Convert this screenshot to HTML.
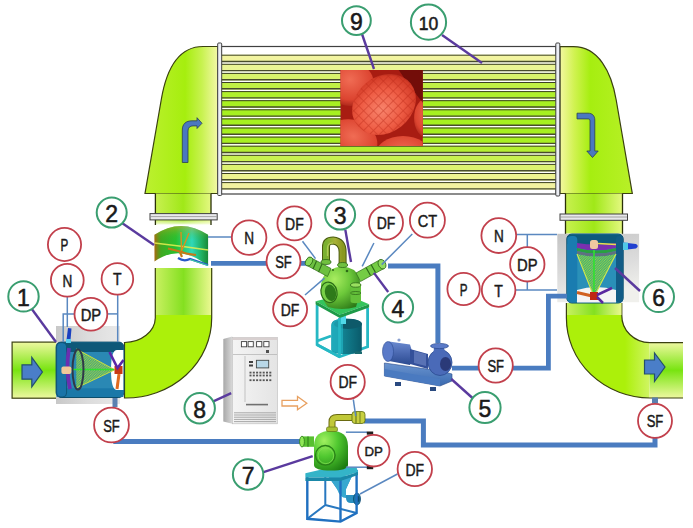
<!DOCTYPE html>
<html><head><meta charset="utf-8">
<style>
html,body{margin:0;padding:0;background:#fff;width:693px;height:528px;overflow:hidden}
svg{display:block}
text{font-family:"Liberation Sans",sans-serif;fill:#1a1a1a;text-anchor:middle}
</style></head><body>
<svg width="693" height="528" viewBox="0 0 693 528">

<defs>
  <linearGradient id="gL" x1="0" x2="1" y1="0" y2="0">
    <stop offset="0" stop-color="#bcf030"/>
    <stop offset="0.55" stop-color="#a6ee0e"/>
    <stop offset="0.78" stop-color="#c8f250"/>
    <stop offset="1" stop-color="#f4f8a8"/>
  </linearGradient>
  <linearGradient id="gR" x1="0" x2="1" y1="0" y2="0">
    <stop offset="0" stop-color="#f4f8a0"/>
    <stop offset="0.2" stop-color="#d0f250"/>
    <stop offset="0.42" stop-color="#a6ee10"/>
    <stop offset="1" stop-color="#b8f028"/>
  </linearGradient>
  <linearGradient id="gPipe" x1="0" x2="1" y1="0" y2="0">
    <stop offset="0" stop-color="#c8f060"/>
    <stop offset="0.5" stop-color="#84e020"/>
    <stop offset="1" stop-color="#eaf890"/>
  </linearGradient>
  <linearGradient id="gHoriz" x1="0" x2="0" y1="0" y2="1">
    <stop offset="0" stop-color="#eef8a0"/>
    <stop offset="0.5" stop-color="#78e410"/>
    <stop offset="1" stop-color="#eef8a0"/>
  </linearGradient>
  <linearGradient id="gNeck" x1="0" x2="1" y1="0" y2="0">
    <stop offset="0" stop-color="#c8f050"/>
    <stop offset="0.5" stop-color="#a0e818"/>
    <stop offset="1" stop-color="#e4f880"/>
  </linearGradient>
</defs>

<rect x="221" y="46.5" width="335" height="147.5" fill="#fff" stroke="#404040" stroke-width="1.2"/>
<rect x="221" y="54.70" width="335" height="7.5" fill="#f2f4a0"/>
<path d="M221,55.20 H556" stroke="#3c4020" stroke-width="1.0"/>
<path d="M221,61.50 H556" stroke="#484c2c" stroke-width="1.4"/>
<rect x="221" y="63.80" width="335" height="7.5" fill="#eaf494"/>
<path d="M221,64.30 H556" stroke="#3c4020" stroke-width="1.0"/>
<path d="M221,70.60 H556" stroke="#484c2c" stroke-width="1.4"/>
<rect x="221" y="72.90" width="335" height="7.5" fill="#d8f26c"/>
<path d="M221,73.40 H556" stroke="#3c4020" stroke-width="1.0"/>
<path d="M221,79.70 H556" stroke="#484c2c" stroke-width="1.4"/>
<rect x="221" y="82.00" width="335" height="7.5" fill="#c0f044"/>
<path d="M221,82.50 H556" stroke="#3c4020" stroke-width="1.0"/>
<path d="M221,88.80 H556" stroke="#484c2c" stroke-width="1.4"/>
<rect x="221" y="91.10" width="335" height="7.5" fill="#b0f02c"/>
<path d="M221,91.60 H556" stroke="#3c4020" stroke-width="1.0"/>
<path d="M221,97.90 H556" stroke="#484c2c" stroke-width="1.4"/>
<rect x="221" y="100.20" width="335" height="7.5" fill="#a8f022"/>
<path d="M221,100.70 H556" stroke="#3c4020" stroke-width="1.0"/>
<path d="M221,107.00 H556" stroke="#484c2c" stroke-width="1.4"/>
<rect x="221" y="109.30" width="335" height="7.5" fill="#a6f020"/>
<path d="M221,109.80 H556" stroke="#3c4020" stroke-width="1.0"/>
<path d="M221,116.10 H556" stroke="#484c2c" stroke-width="1.4"/>
<rect x="221" y="118.40" width="335" height="7.5" fill="#a6f020"/>
<path d="M221,118.90 H556" stroke="#3c4020" stroke-width="1.0"/>
<path d="M221,125.20 H556" stroke="#484c2c" stroke-width="1.4"/>
<rect x="221" y="127.50" width="335" height="7.5" fill="#a6f020"/>
<path d="M221,128.00 H556" stroke="#3c4020" stroke-width="1.0"/>
<path d="M221,134.30 H556" stroke="#484c2c" stroke-width="1.4"/>
<rect x="221" y="136.60" width="335" height="7.5" fill="#a8f022"/>
<path d="M221,137.10 H556" stroke="#3c4020" stroke-width="1.0"/>
<path d="M221,143.40 H556" stroke="#484c2c" stroke-width="1.4"/>
<rect x="221" y="145.70" width="335" height="7.5" fill="#b4f032"/>
<path d="M221,146.20 H556" stroke="#3c4020" stroke-width="1.0"/>
<path d="M221,152.50 H556" stroke="#484c2c" stroke-width="1.4"/>
<rect x="221" y="154.80" width="335" height="7.5" fill="#c8f250"/>
<path d="M221,155.30 H556" stroke="#3c4020" stroke-width="1.0"/>
<path d="M221,161.60 H556" stroke="#484c2c" stroke-width="1.4"/>
<rect x="221" y="163.90" width="335" height="7.5" fill="#dcf270"/>
<path d="M221,164.40 H556" stroke="#3c4020" stroke-width="1.0"/>
<path d="M221,170.70 H556" stroke="#484c2c" stroke-width="1.4"/>
<rect x="221" y="173.00" width="335" height="7.5" fill="#ecf290"/>
<path d="M221,173.50 H556" stroke="#3c4020" stroke-width="1.0"/>
<path d="M221,179.80 H556" stroke="#484c2c" stroke-width="1.4"/>
<rect x="221" y="182.10" width="335" height="7.5" fill="#f2f2a0"/>
<path d="M221,182.60 H556" stroke="#3c4020" stroke-width="1.0"/>
<path d="M221,188.90 H556" stroke="#484c2c" stroke-width="1.4"/>
<path d="M218,46.5 L203,46.5 C178,46.5 166.2,70 161.2,100 L145,193.5 L218,193.5 Z" fill="url(#gL)" stroke="#3a4010" stroke-width="1.2"/>
<path d="M560,46.7 L573.5,46.7 C598.5,46.7 611.4,72 616.2,100 L632.3,193.5 L560,193.5 Z" fill="url(#gR)" stroke="#3a4010" stroke-width="1.2"/>
<rect x="217.7" y="43" width="4" height="152.5" rx="1" fill="#eceef4" stroke="#404040" stroke-width="1"/>
<rect x="555.8" y="43" width="4" height="153" rx="1" fill="#eceef4" stroke="#404040" stroke-width="1"/>
<defs><linearGradient id="gNeckFade" x1="0" x2="0" y1="0" y2="1"><stop offset="0" stop-color="#fff" stop-opacity="0"/><stop offset="1" stop-color="#fff" stop-opacity="0.85"/></linearGradient></defs>
<rect x="155.4" y="193.5" width="55.6" height="31" fill="url(#gNeck)"/>
<rect x="155.4" y="219" width="55.6" height="6" fill="url(#gNeckFade)"/>
<path d="M155.4,193.5 V225 M211,193.5 V225" stroke="#2a3008" stroke-width="1.3"/>
<rect x="150" y="213.6" width="67.2" height="6.3" fill="#e8e8ec" stroke="#404040" stroke-width="1"/>
<line x1="150.5" y1="216.6" x2="216.7" y2="216.6" stroke="#909090" stroke-width="0.8"/>
<rect x="565.5" y="193.5" width="57" height="40" fill="url(#gNeck)"/>
<path d="M565.5,193.5 V234 M622.5,193.5 V234" stroke="#2a3008" stroke-width="1.3"/>
<rect x="560" y="214" width="67.5" height="6.3" fill="#e8e8ec" stroke="#404040" stroke-width="1"/>
<line x1="560.5" y1="217" x2="627" y2="217" stroke="#909090" stroke-width="0.8"/>
<rect x="155.3" y="268" width="56.4" height="47" fill="url(#gPipe)" stroke="none"/>
<path d="M155.3,268 L155.3,318 A31,25 0 0 1 124.5,342.5 L124.5,398 A86,80 0 0 0 211.7,318 L211.7,268" fill="#acf00a" stroke="#3a4010" stroke-width="1.2"/>
<rect x="156" y="268" width="55" height="47" fill="url(#gPipe)"/>
<rect x="12.1" y="342.1" width="46" height="56.1" fill="url(#gHoriz)" stroke="#3a4010" stroke-width="1.2"/>
<path d="M566.4,303 L566.4,318 A84,80 0 0 0 650,398 L683,398 L683,342.6 L650,342.6 A28,27 0 0 1 621.8,315 L621.8,303" fill="#acf00a" stroke="none"/>
<rect x="649" y="342.6" width="34" height="55.4" fill="url(#gHoriz)"/>
<defs><linearGradient id="elbR" x1="0" x2="1"><stop offset="0" stop-color="#e8f8a0" stop-opacity="0"/><stop offset="1" stop-color="#e8f8a0" stop-opacity="0.6"/></linearGradient>
<clipPath id="elbRc"><path d="M566.4,303 L566.4,318 A84,80 0 0 0 650,398 L650,342.6 A28,27 0 0 1 621.8,315 L621.8,303 Z"/></clipPath></defs>
<rect x="625" y="330" width="25" height="70" fill="url(#elbR)" clip-path="url(#elbRc)"/>
<path d="M566.4,303 L566.4,318 A84,80 0 0 0 650,398 L683,398 M683,342.6 L650,342.6 A28,27 0 0 1 621.8,315 L621.8,303" fill="none" stroke="#3a4010" stroke-width="1.2"/>
<rect x="567" y="303" width="54.5" height="12" fill="url(#gPipe)"/>
<path d="M182.3,162.5 L182.3,130 C182.3,124 186,120.8 192,120.8 L197,120.8 L197,117.7 L202,123.3 L197,128.5 L197,125.9 L193,125.9 C190,125.9 188,127.5 188,131 L188,162.5 Z" fill="#4a78c0" stroke="#2c4050" stroke-width="0.8"/>
<path d="M577,113.2 L588,113.2 C592.5,113.2 594.8,116 594.8,120 L594.8,151 L598.2,151 L592.5,157.5 L586.8,151 L590,151 L590,121 C590,119.5 589.5,118.9 588,118.9 L577,118.9 Z" fill="#4a78c0" stroke="#2c4050" stroke-width="0.8"/>
<defs>
<clipPath id="cp9"><rect x="340.5" y="70" width="82.3" height="76"/></clipPath>
<radialGradient id="ball" cx="0.42" cy="0.55" r="0.62">
 <stop offset="0" stop-color="#f8846c"/><stop offset="0.55" stop-color="#ee5c44"/><stop offset="0.9" stop-color="#d43c28"/><stop offset="1" stop-color="#a82418"/>
</radialGradient>
<radialGradient id="ball2" cx="0.5" cy="0.4" r="0.65">
 <stop offset="0" stop-color="#f06c54"/><stop offset="0.7" stop-color="#dc4430"/><stop offset="1" stop-color="#a02014"/>
</radialGradient>
<pattern id="waf" width="7" height="7" patternUnits="userSpaceOnUse" patternTransform="rotate(83)">
 <path d="M0,0 H7 M0,0 V7" stroke="#b82414" stroke-width="1.6" opacity="0.5"/>
</pattern>
</defs>
<g clip-path="url(#cp9)">
<rect x="340" y="69" width="84" height="78" fill="#a81c12"/>
<ellipse cx="350" cy="84" rx="24" ry="22" fill="url(#ball2)"/>
<ellipse cx="352" cy="140" rx="26" ry="20" transform="rotate(20 352 140)" fill="url(#ball2)"/>
<ellipse cx="403" cy="156" rx="28" ry="20" fill="url(#ball2)"/>
<ellipse cx="428" cy="118" rx="14" ry="20" fill="url(#ball2)"/>
<path d="M398,69 L424,69 L424,104 Q412,90 398,69 Z" fill="#6a0a08" opacity="0.85"/>
<ellipse cx="384" cy="104.5" rx="34" ry="28" transform="rotate(-38 384 104.5)" fill="url(#ball)"/>
<ellipse cx="384" cy="104.5" rx="34" ry="28" transform="rotate(-38 384 104.5)" fill="url(#waf)"/>
</g>
<defs><linearGradient id="f2g" x1="0" x2="1" y1="0" y2="0">
<stop offset="0" stop-color="#a86a10"/><stop offset="0.12" stop-color="#40a820"/><stop offset="0.4" stop-color="#28c030"/>
<stop offset="0.7" stop-color="#30d8b8"/><stop offset="0.88" stop-color="#20b060"/><stop offset="1" stop-color="#188838"/></linearGradient>
<linearGradient id="f2v" x1="0" x2="0" y1="0" y2="1"><stop offset="0" stop-color="#e0a020" stop-opacity="0.55"/><stop offset="0.35" stop-color="#40c020" stop-opacity="0"/></linearGradient></defs>
<path d="M154.4,234.8 Q181,217 208.1,234.8 L208.1,266.3 Q181,243 154.5,261.4 Z" fill="url(#f2g)"/>
<path d="M154.4,234.8 Q181,217 208.1,234.8 L208.1,266.3 Q181,243 154.5,261.4 Z" fill="url(#f2v)"/>
<path d="M154.4,243 Q181,246 208,250" fill="none" stroke="#e8f050" stroke-width="1.3" opacity="0.85"/>
<path d="M181,232 L181.5,251 M189,233 L182,250" stroke="#d89020" stroke-width="1.4"/>
<path d="M168,248.5 L182,252 Q186,254 196,255" fill="none" stroke="#c87818" stroke-width="2"/>
<path d="M180,252 L182,257" stroke="#c87818" stroke-width="2.2"/>
<path d="M178,258 Q184,262 190,259 L208,265" fill="none" stroke="#2858c8" stroke-width="2.2"/>
<path d="M190,259.5 L208,265.5" stroke="#40d0a0" stroke-width="1.2"/>
<defs>
<linearGradient id="gray1" x1="0" x2="1" y1="0" y2="0"><stop offset="0" stop-color="#c8c8c8"/><stop offset="0.5" stop-color="#dcdcdc"/><stop offset="1" stop-color="#e8e8e8"/></linearGradient>
<linearGradient id="gray6" x1="0" x2="0.3" y1="0" y2="1"><stop offset="0" stop-color="#c4c4c4"/><stop offset="0.6" stop-color="#dcdcdc"/><stop offset="1" stop-color="#f0f0ec"/></linearGradient>
<linearGradient id="cone1" x1="0" x2="1" y1="0" y2="0"><stop offset="0" stop-color="#40a040"/><stop offset="1" stop-color="#60e030"/></linearGradient>
<pattern id="mesh" width="2.5" height="2.5" patternUnits="userSpaceOnUse"><path d="M0,2.5 L2.5,0" stroke="#b8e040" stroke-width="0.7"/></pattern>
</defs>
<rect x="56" y="326" width="64" height="78" fill="url(#gray1)"/>
<rect x="56.1" y="342.1" width="67.8" height="55.4" rx="5" fill="#2a88b4" stroke="#0c4e6c" stroke-width="1"/>
<path d="M60,342.6 H119 Q123.4,342.6 123.4,347 V352 H56.6 V347 Q56.6,342.6 60,342.6 Z" fill="#0e5878"/>
<rect x="56.6" y="388.3" width="66.8" height="8.7" fill="#1a78a8"/>
<rect x="56.6" y="342.6" width="10" height="54.4" rx="4" fill="#1a74a8" stroke="#0c4e6c" stroke-width="0.8"/>
<path d="M123.4,350 H117 Q111,350 111,370 Q111,390 117,390 H123.4 Z" fill="#fff"/>
<path d="M76.3,349 L114.7,369.8 L76.3,388 Z" fill="#50a878"/>
<path d="M76.3,349 L114.7,369.8 L76.3,388 Z" fill="url(#mesh)"/>
<path d="M76.3,349 L114.7,369.8 L76.3,388" fill="none" stroke="#c8e040" stroke-width="1"/>
<line x1="72" y1="369.5" x2="114" y2="369.5" stroke="#30e030" stroke-width="1.5"/>
<ellipse cx="78" cy="369.5" rx="5.5" ry="20" fill="none" stroke="#303848" stroke-width="2"/>
<path d="M69,348 Q65.5,369 70,389" fill="none" stroke="#6a30b0" stroke-width="3.8"/>
<rect x="61.4" y="366.5" width="10" height="7.5" rx="2" fill="#f0c898"/>
<rect x="114.5" y="366" width="8" height="8" fill="#c83814"/>
<path d="M119,374 L117,389" stroke="#e06a20" stroke-width="3"/>
<path d="M109.5,352 L117.5,368 L123.5,360" fill="none" stroke="#5a28a8" stroke-width="2.6"/>
<path d="M68,328 L71.5,328.5 L70.5,340 L66.5,340 Z" fill="#1a40c0"/>
<rect x="66" y="339" width="5" height="4" fill="#5ad0f0"/>
<rect x="112.5" y="398" width="5" height="9" fill="#5a80b0"/>
<rect x="557.3" y="233.8" width="81.8" height="68.4" fill="url(#gray6)"/>
<rect x="566.8" y="234" width="56.4" height="69" rx="5" fill="#2a90b8" stroke="#0c4e6c" stroke-width="1"/>
<path d="M571,234.5 H619 Q622.7,234.5 622.7,238.5 V244 Q596,254 567.3,244 V238.5 Q567.3,234.5 571,234.5 Z" fill="#0e5a7c"/>
<rect x="567.3" y="236" width="10" height="66.5" rx="4" fill="#1a7cb0"/>
<rect x="616" y="236" width="7" height="66.5" rx="3" fill="#125c86"/>
<path d="M577,290 Q596,284 616,290 V302.5 H577 Z" fill="#f4f4f4"/>
<path d="M577,243 Q596,246 616,243 V248 Q596,253 577,248 Z" fill="#7a30b0"/>
<path d="M577,248 Q596,253 616,248 V251 Q596,256 577,251 Z" fill="#2aa040"/>
<path d="M577,251 Q596,256 616,251 L616,254 Q596,259 577,254 Z" fill="#607080"/>
<path d="M577,254 L594,297 L616,254 Q596,259 577,254 Z" fill="#48b070"/>
<path d="M577,254 L594,297 L616,254 Q596,259 577,254 Z" fill="url(#mesh)"/>
<path d="M577,254 L594,297 L616,254" fill="none" stroke="#d0e850" stroke-width="1.1"/>
<line x1="594" y1="250" x2="594" y2="296" stroke="#30e030" stroke-width="1.6"/>
<rect x="590" y="240" width="8" height="9" rx="2.5" fill="#f0c8a0"/>
<line x1="598" y1="243.5" x2="616" y2="244.5" stroke="#e8e050" stroke-width="1.5"/>
<path d="M623,242.5 L636,244 Q639.5,246.2 636,248.5 L623,250 Z" fill="#2040d0"/>
<rect x="623" y="242.5" width="5" height="7.5" fill="#50c8e8"/>
<path d="M577,292.5 L592,296" stroke="#d06020" stroke-width="3"/>
<rect x="590" y="292" width="8" height="8" fill="#c02814"/>
<path d="M597,295 L612,288 M597,297 L603,303" stroke="#5a28a0" stroke-width="2.5"/>
<path d="M211,263.4 L310,263.4" fill="none" stroke="#4a7cc0" stroke-width="4.6" stroke-linejoin="miter"/>
<path d="M388,266 L437.9,266 L437.9,343" fill="none" stroke="#4a7cc0" stroke-width="5" stroke-linejoin="miter"/>
<path d="M452,368.2 L548.4,368.2 L548.4,296.2 L567,296.2" fill="none" stroke="#4a7cc0" stroke-width="4.8" stroke-linejoin="miter"/>
<path d="M113.3,441.5 L300,441.5" fill="none" stroke="#4a7cc0" stroke-width="5" stroke-linejoin="miter"/>
<path d="M364,421.1 L423.4,421.1 L423.4,445 L655,445 L655,436" fill="none" stroke="#4a7cc0" stroke-width="5" stroke-linejoin="miter"/>
<rect x="652" y="397.5" width="6" height="6" fill="#5a80b0"/>
<defs>
<radialGradient id="sepG" cx="0.35" cy="0.3" r="0.8"><stop offset="0" stop-color="#a8ec60"/><stop offset="0.5" stop-color="#6cc83a"/><stop offset="1" stop-color="#2e7a18"/></radialGradient>
<linearGradient id="uG" x1="0" x2="1"><stop offset="0" stop-color="#7ab030"/><stop offset="0.55" stop-color="#a8b038"/><stop offset="1" stop-color="#8a9820"/></linearGradient>
<linearGradient id="tankG" x1="0" x2="1"><stop offset="0" stop-color="#1a9aaa"/><stop offset="0.4" stop-color="#128090"/><stop offset="1" stop-color="#0a5a6a"/></linearGradient>
<radialGradient id="sep7G" cx="0.3" cy="0.25" r="0.9"><stop offset="0" stop-color="#a0f060"/><stop offset="0.45" stop-color="#50c830"/><stop offset="1" stop-color="#1a7a10"/></radialGradient>
</defs>
<path d="M317.1,305 V344.7 L339.5,356.8 L367.6,346.8 V308 M317.1,341 L331,336" fill="none" stroke="#26b8c4" stroke-width="2.8"/>
<path d="M331.3,325 Q331.3,318.4 346,318.4 Q361.8,318.4 361.8,325 V350 Q361.8,354 346,354 Q331.3,354 331.3,350 Z" fill="url(#tankG)"/>
<ellipse cx="348" cy="324" rx="14" ry="5" fill="#0e5a6a"/>
<path d="M331.3,325 Q334,318.4 343,318.4 L343,353.5 Q334,353 331.3,350 Z" fill="#22b0c0" opacity="0.75"/>
<rect x="340" y="314" width="6" height="10" fill="#50d8e8"/>
<line x1="317.1" y1="344.7" x2="339.5" y2="356.8" stroke="#26b8c4" stroke-width="2.8"/>
<path d="M339.5,318 V356.8" stroke="#26b8c4" stroke-width="2.8"/>
<rect x="355" y="351.5" width="7" height="2.5" fill="#1a6a70"/>
<path d="M315.6,301.2 L345,294 L369.1,304.2 L339.8,314.8 Z" fill="#34c45c"/>
<path d="M315.6,301.2 L339.8,314.8 L369.1,304.2 L369.1,307.5 L339.8,318 L315.6,304.5 Z" fill="#1e9a48"/>
<path d="M328,307 Q322,300 321,290 Q320,276 330,270 Q342,263 354,270 Q361,276 360,286 Q359,298 356,307 Q342,311 328,307 Z" fill="url(#sepG)"/>
<ellipse cx="329" cy="292.3" rx="8" ry="10.3" transform="rotate(-12 329 292.3)" fill="#78d048" stroke="#2a6a18" stroke-width="1.2"/>
<ellipse cx="330.5" cy="292.8" rx="5.5" ry="8.3" transform="rotate(-12 330.5 292.8)" fill="#2e7a1a"/>
<path d="M350.5,285 Q350.5,283 355.7,283 Q361,283 361,285 V301 Q361,303.2 355.7,303.2 Q350.5,303.2 350.5,301 Z" fill="#64c03a"/>
<ellipse cx="355.7" cy="285" rx="5.2" ry="2.2" fill="#9ae060" stroke="#2e6a18" stroke-width="0.8"/>
<ellipse cx="355.7" cy="293" rx="5.2" ry="1.5" fill="none" stroke="#2e6a18" stroke-width="0.8"/>
<path d="M310.5,257.5 L331,268.5 L327.5,276.5 L307,265.5 Z" fill="#6cc040" stroke="#2e6a18" stroke-width="0.7"/>
<ellipse cx="309" cy="261.5" rx="3.2" ry="4.8" transform="rotate(28 309 261.5)" fill="#88d858" stroke="#2e6a18" stroke-width="0.8"/>
<path d="M316.5,261 L313,269 M322,264 L318.5,272" stroke="#2e6a18" stroke-width="1.1"/>
<path d="M356,273 L379.5,260 L384,268.5 L360.5,281.5 Z" fill="#74cc44" stroke="#2e6a18" stroke-width="0.7"/>
<ellipse cx="382" cy="264.2" rx="3.6" ry="5" transform="rotate(-28 382 264.2)" fill="#90dc60" stroke="#2e6a18" stroke-width="0.8"/>
<path d="M366,267.5 L370.5,275.5 M371,264.5 L375.5,272.5" stroke="#2e6a18" stroke-width="1.2"/>
<path d="M326,264 V247 Q326,240.5 333,240.5 Q342.6,241.5 342.6,252 V266" fill="none" stroke="#4a5a10" stroke-width="8"/>
<path d="M326,264 V247 Q326,240.5 333,240.5 Q342.6,241.5 342.6,252 V266" fill="none" stroke="url(#uG)" stroke-width="6"/>
<path d="M327.5,256 V248 Q327.5,243 333,243" fill="none" stroke="#d0e070" stroke-width="1.2" opacity="0.6"/>
<ellipse cx="326" cy="262" rx="5" ry="2.5" fill="#70c040" stroke="#2e6a18" stroke-width="0.8"/>
<ellipse cx="342.6" cy="265" rx="5" ry="2.5" fill="#70c040" stroke="#2e6a18" stroke-width="0.8"/>
<circle cx="347" cy="271" r="1.3" fill="#2e6a18"/><circle cx="333" cy="270" r="1.1" fill="#2e6a18"/>
<defs><linearGradient id="motG" x1="0" y1="0" x2="0" y2="1"><stop offset="0" stop-color="#6a8ad0"/><stop offset="0.5" stop-color="#4a68b0"/><stop offset="1" stop-color="#2a4a90"/></linearGradient>
<linearGradient id="baseG" x1="0" y1="0" x2="0" y2="1"><stop offset="0" stop-color="#6a94d0"/><stop offset="1" stop-color="#3a6ab0"/></linearGradient></defs>
<path d="M384.4,363 L441,371 L452,374 L452,381 L440,386 L384.4,376 Z" fill="url(#baseG)" stroke="#2a4a88" stroke-width="0.6"/>
<path d="M384.4,369 L440,379 L440,386 L384.4,376 Z" fill="#4a7ac0"/>
<rect x="395" y="382" width="6" height="4" fill="#2a4a80"/><rect x="430" y="387" width="6" height="4" fill="#2a4a80"/>
<path d="M389,341.5 L410,344.5 Q414,354 410,365 L389,361 Z" fill="url(#motG)"/>
<ellipse cx="388" cy="351.5" rx="5.5" ry="10" fill="#5a7ac8" stroke="#2a4a90" stroke-width="0.6"/>
<circle cx="399" cy="340" r="1.6" fill="#8aa0d0"/>
<path d="M410,349 L428,354 L428,369 L410,364 Z" fill="#34509a"/>
<path d="M414,351 L426,354 L426,366 L414,363 Z" fill="#6a80c0" opacity="0.7"/>
<ellipse cx="440" cy="362.5" rx="12" ry="13" fill="#4a6ab8" stroke="#2a4a90" stroke-width="0.8"/>
<ellipse cx="445.5" cy="364" rx="5.5" ry="7" fill="#2a3a78"/>
<path d="M434,348 L444,348 L446,356 L433,356 Z" fill="#4a6ab8"/>
<ellipse cx="439.5" cy="346" rx="9" ry="2.6" fill="#5a7ac8" stroke="#2a4a90" stroke-width="0.7"/>
<defs><linearGradient id="cabS" x1="0" x2="1"><stop offset="0" stop-color="#a8a8a8"/><stop offset="1" stop-color="#d8d8d8"/></linearGradient>
<linearGradient id="cabF" x1="0" x2="1"><stop offset="0" stop-color="#f4f4f4"/><stop offset="1" stop-color="#e4e4e4"/></linearGradient></defs>
<path d="M223.3,339 L232.3,336.6 L232.3,423.8 L223.3,421.5 Z" fill="url(#cabS)"/>
<rect x="232.3" y="337.5" width="45" height="86.3" fill="url(#cabF)" stroke="#b8b8b8" stroke-width="0.6"/>
<rect x="232.3" y="337.5" width="45" height="2.5" fill="#d8d0d0"/>
<rect x="241.4" y="341.6" width="5.2" height="5.2" fill="#fff" stroke="#404040" stroke-width="0.9"/>
<rect x="248.1" y="341.6" width="5.2" height="5.2" fill="#fff" stroke="#404040" stroke-width="0.9"/>
<rect x="256.59999999999997" y="341.6" width="5.2" height="5.2" fill="#fff" stroke="#404040" stroke-width="0.9"/>
<rect x="263.79999999999995" y="341.6" width="5.2" height="5.2" fill="#fff" stroke="#404040" stroke-width="0.9"/>
<rect x="233" y="354" width="44" height="0.7" fill="#b0b0b0"/>
<line x1="245" y1="356" x2="245" y2="402" stroke="#b0b0b0" stroke-width="0.7"/>
<rect x="266" y="350" width="3" height="3" fill="#505050"/>
<rect x="256.4" y="360.3" width="12.3" height="7.6" fill="#b8d8e8" stroke="#404848" stroke-width="0.9"/>
<rect x="249" y="361" width="4" height="2" fill="#404040"/><rect x="249" y="364.5" width="4" height="2" fill="#404040"/>
<rect x="249.5" y="371.70000000000005" width="2" height="1.8" fill="#555"/>
<rect x="252.8" y="371.70000000000005" width="2" height="1.8" fill="#555"/>
<rect x="256.1" y="371.70000000000005" width="2" height="1.8" fill="#555"/>
<rect x="259.4" y="371.70000000000005" width="2" height="1.8" fill="#555"/>
<rect x="262.7" y="371.70000000000005" width="2" height="1.8" fill="#555"/>
<rect x="266.0" y="371.70000000000005" width="2" height="1.8" fill="#555"/>
<rect x="269.3" y="371.70000000000005" width="2" height="1.8" fill="#555"/>
<rect x="249.5" y="374.6" width="2" height="1.8" fill="#555"/>
<rect x="252.8" y="374.6" width="2" height="1.8" fill="#555"/>
<rect x="256.1" y="374.6" width="2" height="1.8" fill="#555"/>
<rect x="259.4" y="374.6" width="2" height="1.8" fill="#555"/>
<rect x="262.7" y="374.6" width="2" height="1.8" fill="#555"/>
<rect x="266.0" y="374.6" width="2" height="1.8" fill="#555"/>
<rect x="269.3" y="374.6" width="2" height="1.8" fill="#555"/>
<rect x="249.5" y="379.3" width="2" height="1.8" fill="#555"/>
<rect x="252.8" y="379.3" width="2" height="1.8" fill="#555"/>
<rect x="256.1" y="379.3" width="2" height="1.8" fill="#555"/>
<rect x="259.4" y="379.3" width="2" height="1.8" fill="#555"/>
<rect x="262.7" y="379.3" width="2" height="1.8" fill="#555"/>
<rect x="266.0" y="379.3" width="2" height="1.8" fill="#555"/>
<rect x="269.3" y="379.3" width="2" height="1.8" fill="#555"/>
<rect x="246" y="403.8" width="22" height="1.6" fill="#707070"/>
<rect x="234" y="412.3" width="42" height="1" fill="#a8a8a8"/>
<rect x="234" y="414.5" width="42" height="1" fill="#a8a8a8"/>
<rect x="234" y="416.7" width="42" height="1" fill="#a8a8a8"/>
<rect x="234" y="418.9" width="42" height="1" fill="#a8a8a8"/>
<rect x="234" y="421.1" width="42" height="1" fill="#a8a8a8"/>
<path d="M282,400.3 H297.5 V396.5 L306.8,403.2 L297.5,409.8 V406 H282 Z" fill="#fff" stroke="#e8a060" stroke-width="1.3"/>
<path d="M22,364.8 H31.8 V357.3 L42.4,372 L31.8,386.8 V379.2 H22 Z" fill="#4a7ec8" stroke="#24506a" stroke-width="1.2"/>
<path d="M644.5,360 H654.5 V353 L665,367 L654.5,381.5 V374 H644.5 Z" fill="#4a7ec8" stroke="#24506a" stroke-width="1.2"/>
<path d="M325.3,476 V505 L307.3,518.8 M325.3,505 L356.6,513" fill="none" stroke="#2878c0" stroke-width="2"/>
<path d="M328,476 L352,476 L346,489 V498 Q346,503 351,503 H356 V495 H351 Q340,495 337,489 Z" fill="#2a90c0"/>
<path d="M328,476 L352,476 L346,489 V498 Q340,498 337,489 Z" fill="#38a8d0"/>
<ellipse cx="357" cy="499" rx="3.5" ry="6" fill="#1a78a8" stroke="#0e4a70" stroke-width="0.8"/>
<ellipse cx="358" cy="499" rx="1.6" ry="3" fill="#0e4a70"/>
<path d="M307.3,477 V518.8 L340.5,521.6 L356.6,513 V470" fill="none" stroke="#2070c0" stroke-width="2.4"/>
<path d="M340.5,480 V521.6" stroke="#2070c0" stroke-width="2.4"/>
<path d="M305.4,473.3 L328,468 L356.6,467.6 L358,472 L340.5,477.5 L305.4,477.5 Z" fill="#34b4c8"/>
<path d="M305.4,477.5 L340.5,477.5 L358,472 L358,475 L340.5,481 L305.4,481 Z" fill="#1a88a8"/>
<path d="M314,446 Q314,430.7 331,430.7 Q348,430.7 348,446 V465 Q348,470.5 331,470.5 Q314,470.5 314,465 Z" fill="url(#sep7G)"/>
<circle cx="325.3" cy="455.3" r="9.8" fill="none" stroke="#2a8018" stroke-width="1.4"/>
<circle cx="325.8" cy="455.8" r="7.8" fill="none" stroke="#80e050" stroke-width="0.8"/>
<path d="M302,436.4 H314 V446.8 H302 Z" fill="#58c030"/>
<ellipse cx="302" cy="441.6" rx="2.4" ry="5.4" fill="#90e858" stroke="#2a7a18" stroke-width="0.8"/>
<line x1="308" y1="436.4" x2="308" y2="446.8" stroke="#2a7a18" stroke-width="1"/>
<path d="M332,431 V422 Q332,417.5 337,417.5 H358" fill="none" stroke="#6a6a10" stroke-width="7"/>
<path d="M332,431 V422 Q332,417.5 337,417.5 H358" fill="none" stroke="#c0c838" stroke-width="5"/>
<rect x="326.5" y="427" width="11" height="4.5" rx="1.5" fill="#a8c030" stroke="#5a6a10" stroke-width="0.6"/>
<rect x="352" y="411.5" width="13" height="12" rx="3" fill="#c8d040" stroke="#5a6a10" stroke-width="0.8"/>
<line x1="356" y1="412" x2="356" y2="423" stroke="#5a6a10" stroke-width="1"/>
<line x1="360" y1="412" x2="360" y2="423" stroke="#5a6a10" stroke-width="0.8"/>
<path d="M208,237 L232,237" fill="none" stroke="#5a88c0" stroke-width="1.5"/>
<path d="M302.5,241.2 L315.5,258.6" fill="none" stroke="#5a88c0" stroke-width="1.5"/>
<path d="M373.9,243 L362.2,266.4" fill="none" stroke="#5a88c0" stroke-width="1.5"/>
<path d="M412.3,234 L381.7,264.6" fill="none" stroke="#5a88c0" stroke-width="1.5"/>
<path d="M305,295 L324.5,278.1" fill="none" stroke="#5a88c0" stroke-width="1.5"/>
<path d="M516,234.5 L557,234.5" fill="none" stroke="#5a88c0" stroke-width="1.5"/>
<path d="M527.3,234.5 L527.3,247" fill="none" stroke="#5a88c0" stroke-width="1.5"/>
<path d="M527.3,281.5 L527.3,290" fill="none" stroke="#5a88c0" stroke-width="1.5"/>
<path d="M515,290 L557,290" fill="none" stroke="#5a88c0" stroke-width="1.5"/>
<path d="M67.3,296.6 L67.3,327" fill="none" stroke="#5a88c0" stroke-width="1.5"/>
<path d="M63.2,342 L63.2,313.9 L74.7,313.9" fill="none" stroke="#5a88c0" stroke-width="1.5"/>
<path d="M107,313.9 L117.7,313.9" fill="none" stroke="#5a88c0" stroke-width="1.5"/>
<path d="M117.7,294.7 L117.7,342" fill="none" stroke="#5a88c0" stroke-width="1.5"/>
<path d="M353.3,399.4 L355.7,416.2" fill="none" stroke="#5a88c0" stroke-width="1.5"/>
<path d="M345.9,432.2 L367,432.2" fill="none" stroke="#5a88c0" stroke-width="1.5"/>
<path d="M345.9,467.2 L367,467.2" fill="none" stroke="#5a88c0" stroke-width="1.5"/>
<rect x="366.8" y="431.5" width="6.4" height="3.2" fill="#202020"/>
<rect x="366.8" y="466" width="6.4" height="3.2" fill="#202020"/>
<path d="M397.5,474 L360,494" fill="none" stroke="#5a88c0" stroke-width="1.5"/>
<line x1="362" y1="34" x2="374" y2="69" stroke="#5a3a9e" stroke-width="2.4"/>
<line x1="442" y1="35" x2="482" y2="63" stroke="#5a3a9e" stroke-width="2.4"/>
<line x1="122" y1="223" x2="154" y2="245" stroke="#5a3a9e" stroke-width="2.4"/>
<line x1="345.3" y1="229.6" x2="351" y2="262" stroke="#5a3a9e" stroke-width="2.4"/>
<line x1="388.2" y1="292" x2="373.9" y2="272.9" stroke="#5a3a9e" stroke-width="2.4"/>
<line x1="31.8" y1="309" x2="56" y2="342" stroke="#5a3a9e" stroke-width="2.4"/>
<line x1="210.1" y1="402.8" x2="231.2" y2="393.2" stroke="#5a3a9e" stroke-width="2.4"/>
<line x1="263.5" y1="472.2" x2="312.7" y2="456.1" stroke="#5a3a9e" stroke-width="2.4"/>
<line x1="615" y1="268" x2="640" y2="291" stroke="#5a3a9e" stroke-width="2.4"/>
<line x1="476.4" y1="401.5" x2="451.3" y2="379" stroke="#5a3a9e" stroke-width="2.4"/>
<circle cx="356.4" cy="20.6" r="14.4" fill="#fff" stroke="#3a9e70" stroke-width="2.0"/>
<text x="356.4" y="30.1" font-size="24" textLength="12.8" lengthAdjust="spacingAndGlyphs" stroke="#1a1a1a" stroke-width="0.55">9</text>
<circle cx="428.5" cy="22.2" r="17.6" fill="#fff" stroke="#3a9e70" stroke-width="2.0"/>
<text x="428.5" y="29.9" font-size="19" textLength="19.5" lengthAdjust="spacingAndGlyphs" stroke="#1a1a1a" stroke-width="0.55">10</text>
<circle cx="111.7" cy="212.6" r="15" fill="#fff" stroke="#3a9e70" stroke-width="2.0"/>
<text x="111.7" y="222.1" font-size="24" textLength="12.8" lengthAdjust="spacingAndGlyphs" stroke="#1a1a1a" stroke-width="0.55">2</text>
<circle cx="23.5" cy="296.4" r="15.2" fill="#fff" stroke="#3a9e70" stroke-width="2.0"/>
<text x="23.5" y="305.9" font-size="24" textLength="12.8" lengthAdjust="spacingAndGlyphs" stroke="#1a1a1a" stroke-width="0.55">1</text>
<circle cx="340.1" cy="214.6" r="15" fill="#fff" stroke="#3a9e70" stroke-width="2.0"/>
<text x="340.1" y="224.1" font-size="24" textLength="12.8" lengthAdjust="spacingAndGlyphs" stroke="#1a1a1a" stroke-width="0.55">3</text>
<circle cx="397.9" cy="307.3" r="15.2" fill="#fff" stroke="#3a9e70" stroke-width="2.0"/>
<text x="397.9" y="316.8" font-size="24" textLength="12.8" lengthAdjust="spacingAndGlyphs" stroke="#1a1a1a" stroke-width="0.55">4</text>
<circle cx="485" cy="407.5" r="15.6" fill="#fff" stroke="#3a9e70" stroke-width="2.0"/>
<text x="485" y="417.0" font-size="24" textLength="12.8" lengthAdjust="spacingAndGlyphs" stroke="#1a1a1a" stroke-width="0.55">5</text>
<circle cx="658.6" cy="296.7" r="15.4" fill="#fff" stroke="#3a9e70" stroke-width="2.0"/>
<text x="658.6" y="306.2" font-size="24" textLength="12.8" lengthAdjust="spacingAndGlyphs" stroke="#1a1a1a" stroke-width="0.55">6</text>
<circle cx="248.1" cy="474.5" r="15.2" fill="#fff" stroke="#3a9e70" stroke-width="2.0"/>
<text x="248.1" y="484.0" font-size="24" textLength="12.8" lengthAdjust="spacingAndGlyphs" stroke="#1a1a1a" stroke-width="0.55">7</text>
<circle cx="199.7" cy="408.3" r="15.2" fill="#fff" stroke="#3a9e70" stroke-width="2.0"/>
<text x="199.7" y="417.8" font-size="24" textLength="12.8" lengthAdjust="spacingAndGlyphs" stroke="#1a1a1a" stroke-width="0.55">8</text>
<circle cx="64.5" cy="244.5" r="16.6" fill="#fff" stroke="#c2404c" stroke-width="1.8"/>
<text x="64.5" y="251.0" font-size="16" textLength="7.8" lengthAdjust="spacingAndGlyphs" stroke="#1a1a1a" stroke-width="0.45">P</text>
<circle cx="67.3" cy="280.2" r="16.4" fill="#fff" stroke="#c2404c" stroke-width="1.8"/>
<text x="67.3" y="286.7" font-size="16" textLength="9.8" lengthAdjust="spacingAndGlyphs" stroke="#1a1a1a" stroke-width="0.45">N</text>
<circle cx="117.4" cy="278.9" r="15.8" fill="#fff" stroke="#c2404c" stroke-width="1.8"/>
<text x="117.4" y="285.4" font-size="16" textLength="8.6" lengthAdjust="spacingAndGlyphs" stroke="#1a1a1a" stroke-width="0.45">T</text>
<circle cx="90.9" cy="314.3" r="16.4" fill="#fff" stroke="#c2404c" stroke-width="1.8"/>
<text x="90.9" y="320.8" font-size="16" textLength="20.5" lengthAdjust="spacingAndGlyphs" stroke="#1a1a1a" stroke-width="0.45">DP</text>
<circle cx="249.1" cy="237.6" r="17.3" fill="#fff" stroke="#c2404c" stroke-width="1.8"/>
<text x="249.1" y="244.1" font-size="16" textLength="9.8" lengthAdjust="spacingAndGlyphs" stroke="#1a1a1a" stroke-width="0.45">N</text>
<circle cx="294.4" cy="223.3" r="17" fill="#fff" stroke="#c2404c" stroke-width="1.8"/>
<text x="294.4" y="229.8" font-size="16" textLength="18.6" lengthAdjust="spacingAndGlyphs" stroke="#1a1a1a" stroke-width="0.45">DF</text>
<circle cx="283.5" cy="261.3" r="17" fill="#fff" stroke="#c2404c" stroke-width="1.8"/>
<text x="283.5" y="267.8" font-size="16" textLength="16.6" lengthAdjust="spacingAndGlyphs" stroke="#1a1a1a" stroke-width="0.45">SF</text>
<circle cx="386" cy="222.7" r="17" fill="#fff" stroke="#c2404c" stroke-width="1.8"/>
<text x="386" y="229.2" font-size="16" textLength="18.6" lengthAdjust="spacingAndGlyphs" stroke="#1a1a1a" stroke-width="0.45">DF</text>
<circle cx="427.4" cy="220.2" r="17.5" fill="#fff" stroke="#c2404c" stroke-width="1.8"/>
<text x="427.4" y="226.7" font-size="16" textLength="19.4" lengthAdjust="spacingAndGlyphs" stroke="#1a1a1a" stroke-width="0.45">CT</text>
<circle cx="290.1" cy="309.3" r="17" fill="#fff" stroke="#c2404c" stroke-width="1.8"/>
<text x="290.1" y="315.8" font-size="16" textLength="18.6" lengthAdjust="spacingAndGlyphs" stroke="#1a1a1a" stroke-width="0.45">DF</text>
<circle cx="498.8" cy="235.6" r="17.4" fill="#fff" stroke="#c2404c" stroke-width="1.8"/>
<text x="498.8" y="242.1" font-size="16" textLength="9.8" lengthAdjust="spacingAndGlyphs" stroke="#1a1a1a" stroke-width="0.45">N</text>
<circle cx="527.3" cy="264.3" r="17.2" fill="#fff" stroke="#c2404c" stroke-width="1.8"/>
<text x="527.3" y="270.8" font-size="16" textLength="20.5" lengthAdjust="spacingAndGlyphs" stroke="#1a1a1a" stroke-width="0.45">DP</text>
<circle cx="463.6" cy="289" r="16.2" fill="#fff" stroke="#c2404c" stroke-width="1.8"/>
<text x="463.6" y="295.5" font-size="16" textLength="7.8" lengthAdjust="spacingAndGlyphs" stroke="#1a1a1a" stroke-width="0.45">P</text>
<circle cx="498.6" cy="290" r="16.8" fill="#fff" stroke="#c2404c" stroke-width="1.8"/>
<text x="498.6" y="296.5" font-size="16" textLength="8.6" lengthAdjust="spacingAndGlyphs" stroke="#1a1a1a" stroke-width="0.45">T</text>
<circle cx="495.7" cy="365.5" r="17.1" fill="#fff" stroke="#c2404c" stroke-width="1.8"/>
<text x="495.7" y="372.0" font-size="16" textLength="16.6" lengthAdjust="spacingAndGlyphs" stroke="#1a1a1a" stroke-width="0.45">SF</text>
<circle cx="111.5" cy="425" r="17.4" fill="#fff" stroke="#c2404c" stroke-width="1.8"/>
<text x="111.5" y="431.5" font-size="16" textLength="16.6" lengthAdjust="spacingAndGlyphs" stroke="#1a1a1a" stroke-width="0.45">SF</text>
<circle cx="655" cy="420.8" r="17" fill="#fff" stroke="#c2404c" stroke-width="1.8"/>
<text x="655" y="427.3" font-size="16" textLength="16.6" lengthAdjust="spacingAndGlyphs" stroke="#1a1a1a" stroke-width="0.45">SF</text>
<circle cx="347.7" cy="381.9" r="17.1" fill="#fff" stroke="#c2404c" stroke-width="1.8"/>
<text x="347.7" y="388.4" font-size="16" textLength="18.6" lengthAdjust="spacingAndGlyphs" stroke="#1a1a1a" stroke-width="0.45">DF</text>
<circle cx="373.7" cy="450.7" r="15.8" fill="#fff" stroke="#c2404c" stroke-width="1.8"/>
<text x="373.7" y="456.3" font-size="13.6" textLength="18.4" lengthAdjust="spacingAndGlyphs" stroke="#1a1a1a" stroke-width="0.45">DP</text>
<circle cx="414.8" cy="469" r="17.2" fill="#fff" stroke="#c2404c" stroke-width="1.8"/>
<text x="414.8" y="475.5" font-size="16" textLength="18.6" lengthAdjust="spacingAndGlyphs" stroke="#1a1a1a" stroke-width="0.45">DF</text>
</svg>
</body></html>
